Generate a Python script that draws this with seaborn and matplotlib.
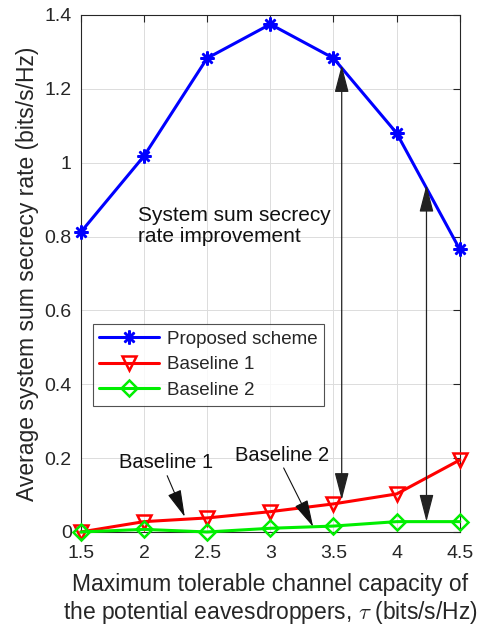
import matplotlib
matplotlib.use("Agg")
import matplotlib.pyplot as plt
import seaborn as sns
import pandas as pd

# Maximum tolerable channel capacity of the eavesdroppers (bits/s/Hz)
tau = [1.5, 2.0, 2.5, 3.0, 3.5, 4.0, 4.5]
# Average system sum secrecy rate (bits/s/Hz)
proposed = [0.812, 1.018, 1.283, 1.375, 1.283, 1.080, 0.765]
baseline1 = [0.000, 0.028, 0.038, 0.055, 0.076, 0.103, 0.195]
baseline2 = [0.000, 0.007, 0.000, 0.010, 0.016, 0.028, 0.028]

series_names = ["Proposed scheme", "Baseline 1", "Baseline 2"]
x_ticks = [1.5, 2, 2.5, 3, 3.5, 4, 4.5]
x_tick_labels = ["1.5", "2", "2.5", "3", "3.5", "4", "4.5"]
y_ticks = [0, 0.2, 0.4, 0.6, 0.8, 1.0, 1.2, 1.4]
y_tick_labels = ["0", "0.2", "0.4", "0.6", "0.8", "1", "1.2", "1.4"]

df = pd.DataFrame({
    "tau": tau * 3,
    "rate": proposed + baseline1 + baseline2,
    "scheme": [series_names[0]] * 7 + [series_names[1]] * 7 + [series_names[2]] * 7,
})

sns.set_style("whitegrid")
plt.rcParams["font.family"] = ["Liberation Sans", "DejaVu Sans"]
plt.rcParams["mathtext.fontset"] = "cm"

fig = plt.figure(figsize=(4.81, 6.30), dpi=100)
ax = fig.add_axes([0.168, 0.1556, 0.788, 0.8206])

styles = {
    "Proposed scheme": dict(color="#0000ff", marker=(8, 2, 0), markersize=10,
                            markeredgewidth=1.8, markerfacecolor="#0000ff"),
    "Baseline 1": dict(color="#ff0000", marker="v", markersize=10.5,
                       markeredgewidth=1.8, markerfacecolor="none"),
    "Baseline 2": dict(color="#00ee00", marker="D", markersize=8.5,
                       markeredgewidth=1.8, markerfacecolor="none"),
}
for name in series_names:
    st = styles[name]
    sns.lineplot(data=df[df["scheme"] == name], x="tau", y="rate", ax=ax,
                 label=name, linewidth=2.2, color=st["color"], marker=st["marker"],
                 markersize=st["markersize"], markeredgewidth=st["markeredgewidth"],
                 markerfacecolor=st["markerfacecolor"], markeredgecolor=st["color"],
                 clip_on=False, zorder=3)

ax.set_xlim(1.5, 4.5)
ax.set_ylim(0, 1.4)
ax.set_xticks(x_ticks)
ax.set_xticklabels(x_tick_labels)
ax.set_yticks(y_ticks)
ax.set_yticklabels(y_tick_labels)
ax.tick_params(axis="both", which="both", direction="in", length=5, width=0.8,
               labelsize=14, colors="#262626", top=True, right=True,
               labelcolor="#262626", pad=6.5)
ax.tick_params(axis="x", pad=9.5)
ax.grid(True, color="#dcdcdc", linewidth=0.7)
for sp in ax.spines.values():
    sp.set_color("#262626")
    sp.set_linewidth(0.8)

ax.set_xlabel("Maximum tolerable channel capacity of\nthe potential eavesdroppers, $\\tau$ (bits/s/Hz)",
              fontsize=16.5, color="#262626", linespacing=1.15, labelpad=8)
ax.set_ylabel("Average system sum secrecy rate (bits/s/Hz)", fontsize=16.5,
              color="#262626", labelpad=4)

leg = ax.legend(loc="upper left", bbox_to_anchor=(0.032, 0.402), fontsize=13.5,
                frameon=True, fancybox=False, edgecolor="#262626",
                borderpad=0.35, handlelength=3.2, labelspacing=0.45,
                handletextpad=0.4, borderaxespad=0)
leg.get_frame().set_linewidth(0.8)

# Improvement arrows between the proposed scheme and the baselines
arrow_kw = dict(arrowstyle="<|-|>,head_length=0.85,head_width=0.22", color="#222222",
                lw=0.9, mutation_scale=20, shrinkA=0, shrinkB=0)
ax.annotate("", xy=(3.565, 1.264), xytext=(3.565, 0.087), arrowprops=arrow_kw)
ax.annotate("", xy=(4.236, 0.94), xytext=(4.236, 0.028), arrowprops=arrow_kw)

ax.text(1.95, 0.829, "System sum secrecy\nrate improvement", fontsize=15,
        color="#111111", ha="left", va="center", linespacing=1.15)

single_kw = dict(arrowstyle="-|>,head_length=0.85,head_width=0.22", color="#111111",
                 lw=0.8, mutation_scale=20, shrinkA=0, shrinkB=0)
ax.annotate("Baseline 1", xy=(2.323, 0.041), xytext=(1.80, 0.187),
            fontsize=14.5, color="#111111", ha="left", va="center",
            arrowprops=dict(single_kw, relpos=(0.5, 0.0)))
ax.annotate("Baseline 2", xy=(3.339, 0.014), xytext=(2.72, 0.208),
            fontsize=14.5, color="#111111", ha="left", va="center",
            arrowprops=dict(single_kw, relpos=(0.5, 0.0)))

fig.savefig("out.png", dpi=100)
